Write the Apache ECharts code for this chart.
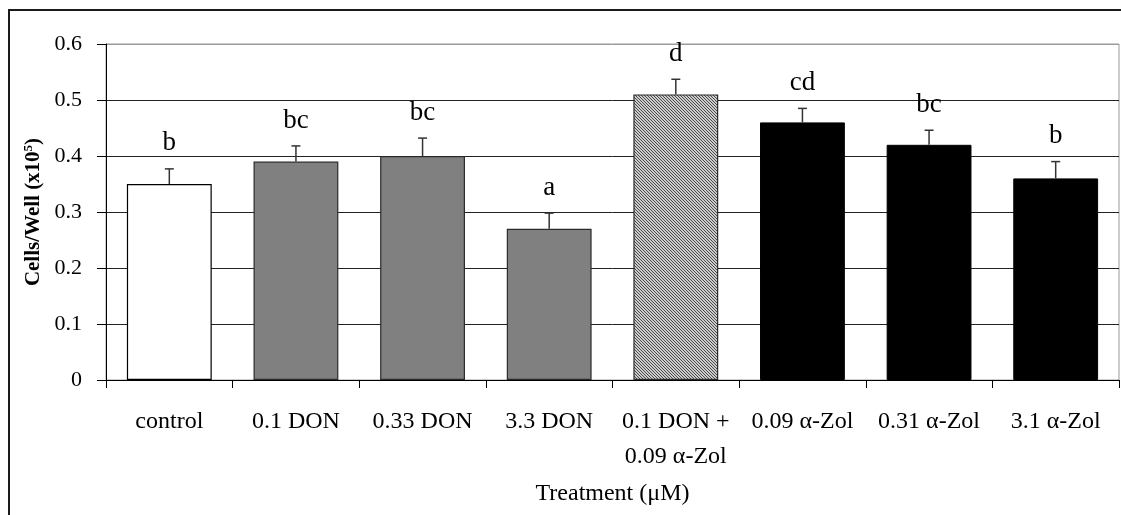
<!DOCTYPE html>
<html>
<head>
<meta charset="utf-8">
<script src="https://cdn.jsdelivr.net/npm/echarts@6/dist/echarts.min.js"></script>
<style>
  html, body { margin: 0; padding: 0; background: #fff; }
  #chart { width: 1121px; height: 515px; }
</style>
</head>
<body>
<div id="chart"></div>
<script>
// Treatments, mean cell counts (x10^5 per well), standard errors and significance letters
const categories = ['control', '0.1 DON', '0.33 DON', '3.3 DON', '0.1 DON +\n0.09 \u03b1-Zol', '0.09 \u03b1-Zol', '0.31 \u03b1-Zol', '3.1 \u03b1-Zol'];
const treatmentGroup = ['control', 'DON', 'DON', 'DON', 'mix', 'Zol', 'Zol', 'Zol'];
const meanCells = [0.35, 0.39, 0.40, 0.27, 0.51, 0.46, 0.42, 0.36];
const stdError = [0.027, 0.028, 0.032, 0.028, 0.027, 0.025, 0.026, 0.030];
const groupLetters = ['b', 'bc', 'bc', 'a', 'd', 'cd', 'bc', 'b'];
const yTicks = [0, 0.1, 0.2, 0.3, 0.4, 0.5, 0.6];

const SERIF = '"Liberation Serif", "DejaVu Serif", serif';

// Fine diagonal hatch used for the combined treatment
function makeHatch() {
  const c = document.createElement('canvas');
  c.width = 6; c.height = 6;
  const ctx = c.getContext('2d');
  const img = ctx.createImageData(6, 6);
  for (let y = 0; y < 6; y++) {
    for (let x = 0; x < 6; x++) {
      const dark = ((x - y + 60) % 3) === 0;
      const v = dark ? 0x4a : 0xcc;
      const i = (y * 6 + x) * 4;
      img.data[i] = v; img.data[i + 1] = v; img.data[i + 2] = v; img.data[i + 3] = 255;
    }
  }
  ctx.putImageData(img, 0, 0);
  return c;
}

const groupStyle = {
  control: { color: '#ffffff', borderColor: '#000000', borderWidth: 1.2 },
  DON: { color: '#808080', borderColor: '#2a2a2a', borderWidth: 1.2 },
  mix: { color: { image: makeHatch(), repeat: 'repeat' }, borderColor: '#2a2a2a', borderWidth: 1.2 },
  Zol: { color: '#000000', borderColor: '#000000', borderWidth: 1 }
};

const barData = meanCells.map((v, i) => ({ value: v, itemStyle: groupStyle[treatmentGroup[i]] }));
const errData = meanCells.map((v, i) => [i, v, stdError[i]]);

const chart = echarts.init(document.getElementById('chart'), null, { renderer: 'canvas' });

chart.setOption({
  animation: false,
  backgroundColor: '#ffffff',
  grid: {
    left: 106, top: 44, right: 2, bottom: 135,
    show: true, borderColor: '#9a9a9a', borderWidth: 1
  },
  xAxis: {
    type: 'category',
    data: categories,
    axisLine: { lineStyle: { color: '#000', width: 1 } },
    axisTick: { show: true, length: 8, alignWithLabel: false, lineStyle: { color: '#000' } },
    axisLabel: {
      interval: 0, margin: 24, color: '#000',
      fontFamily: SERIF, fontSize: 24, lineHeight: 35
    },
    name: 'Treatment (\u03bcM)',
    nameLocation: 'middle',
    nameGap: 102,
    nameTextStyle: { color: '#000', fontFamily: SERIF, fontSize: 24 }
  },
  yAxis: {
    type: 'value',
    min: 0, max: 0.6, interval: 0.1,
    axisLine: { show: true, lineStyle: { color: '#000', width: 1 } },
    axisTick: { show: true, length: 9, lineStyle: { color: '#000' } },
    axisLabel: {
      margin: 24, color: '#000', fontFamily: SERIF, fontSize: 22,
      formatter: v => (v === 0 ? '0' : v.toFixed(1))
    },
    splitLine: {
      show: true,
      lineStyle: { color: ['#000', '#222', '#222', '#222', '#222', '#222', '#9a9a9a'], width: 1 }
    },
    name: '{t|Cells/Well (x10}{s|5}{t|)}',
    nameLocation: 'middle',
    nameRotate: 90,
    nameGap: 53,
    nameTextStyle: {
      rich: {
        t: { fontFamily: SERIF, fontWeight: 'bold', fontSize: 21, color: '#000' },
        s: { fontFamily: SERIF, fontWeight: 'bold', fontSize: 13, color: '#000', verticalAlign: 'top', padding: [0, 0, 9, 0] }
      }
    }
  },
  graphic: [{
    type: 'rect',
    shape: { x: 9, y: 10, width: 1300, height: 700 },
    style: { fill: 'none', stroke: '#1a1a1a', lineWidth: 2 },
    silent: true
  }],
  series: [
    {
      type: 'bar',
      data: barData,
      barCategoryGap: '33%'
    },
    {
      // upper standard-error whiskers with the significance letters above them
      type: 'custom',
      data: errData,
      z: 5,
      renderItem: function (params, api) {
        const xi = api.value(0), m = api.value(1), e = api.value(2);
        const base = api.coord([xi, m]);
        const top = api.coord([xi, m + e]);
        const cap = 4.5;
        return {
          type: 'group',
          children: [
            { type: 'line', shape: { x1: top[0], y1: base[1], x2: top[0], y2: top[1] },
              style: { stroke: '#333', lineWidth: 1.5 } },
            { type: 'line', shape: { x1: top[0] - cap, y1: top[1], x2: top[0] + cap, y2: top[1] },
              style: { stroke: '#333', lineWidth: 1.5 } },
            { type: 'text', x: top[0], y: top[1] - 12,
              style: { text: groupLetters[params.dataIndex], align: 'center', verticalAlign: 'bottom',
                       fontFamily: SERIF, fontSize: 27, fill: '#000' } }
          ]
        };
      }
    }
  ]
});
</script>
</body>
</html>
